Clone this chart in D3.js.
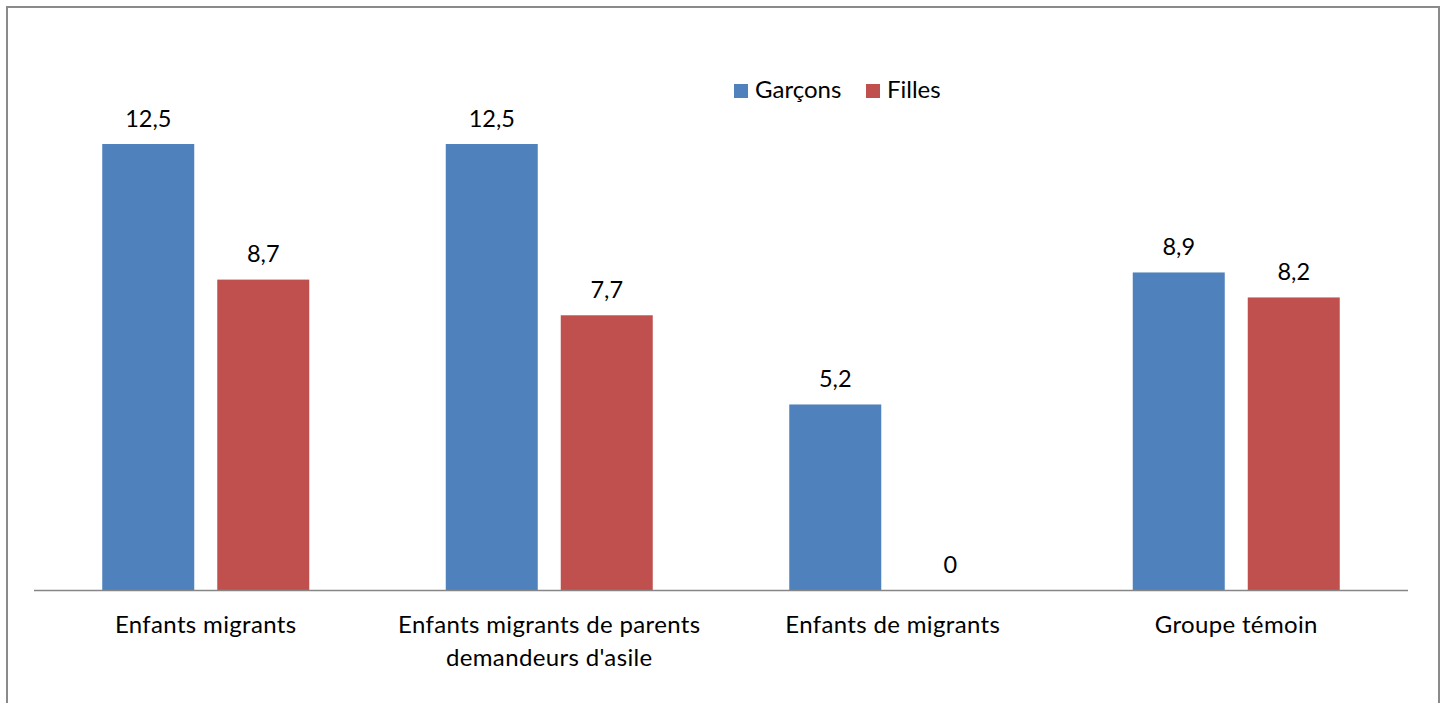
<!DOCTYPE html>
<html>
<head>
<meta charset="utf-8">
<script src="https://cdn.jsdelivr.net/npm/d3@7"></script>
<style>
  html, body { margin: 0; padding: 0; background: #fff; }
  svg { display: block; }
  text { font-family: Lato, "Open Sans", sans-serif; fill: #000; }
</style>
</head>
<body>
<svg id="chart" width="1449" height="703"></svg>
<script>
// Categories (multi-line labels split on "\n")
const categories = [
  "Enfants migrants",
  "Enfants migrants de parents\ndemandeurs d'asile",
  "Enfants de migrants",
  "Groupe témoin"
];
const seriesNames = ["Garçons", "Filles"];
const garcons = [12.5, 12.5, 5.2, 8.9];
const filles = [8.7, 7.7, 0, 8.2];
const seriesColors = ["#4F81BD", "#C0504D"];

const rows = categories.map((c, i) => ({ cat: c, values: [garcons[i], filles[i]] }));

const svg = d3.select("#chart");

// Outer frame
svg.append("rect")
  .attr("x", 7).attr("y", 7)
  .attr("width", 1432).attr("height", 720)
  .attr("fill", "none")
  .attr("stroke", "#8a8a8a")
  .attr("stroke-width", 2);

const plot = { left: 34, right: 1408, baseline: 590, top: 90.5 };

const x0 = d3.scaleBand()
  .domain(categories)
  .range([plot.left, plot.right])
  .paddingInner(0).paddingOuter(0);

const x1 = d3.scaleBand()
  .domain(seriesNames)
  .range([0, x0.bandwidth()])
  .paddingInner(0.2)
  .paddingOuter(0.5935);

const y = d3.scaleLinear().domain([0, 14]).range([plot.baseline, plot.top]);

const fmt = v => String(v).replace(".", ",");

const groups = svg.append("g").selectAll("g")
  .data(rows)
  .join("g")
  .attr("transform", d => `translate(${x0(d.cat)},0)`);

const cells = groups.selectAll("g.cell")
  .data(d => d.values.map((v, i) => ({ name: seriesNames[i], value: v, color: seriesColors[i] })))
  .join("g").attr("class", "cell");

cells.append("rect")
  .attr("x", d => x1(d.name))
  .attr("y", d => y(d.value))
  .attr("width", x1.bandwidth())
  .attr("height", d => y(0) - y(d.value))
  .attr("fill", d => d.color);

cells.append("text")
  .attr("x", d => x1(d.name) + x1.bandwidth() / 2)
  .attr("y", d => y(d.value) - 17.5)
  .attr("text-anchor", "middle")
  .attr("font-size", 23.5)
  .text(d => fmt(d.value));

// Category axis line
svg.append("line")
  .attr("x1", plot.left).attr("x2", plot.right)
  .attr("y1", plot.baseline + 0.5).attr("y2", plot.baseline + 0.5)
  .attr("stroke", "#868686")
  .attr("stroke-width", 1.5);

// Category labels
const catLabels = svg.append("g").selectAll("text")
  .data(categories)
  .join("text")
  .attr("x", d => x0(d) + x0.bandwidth() / 2)
  .attr("y", 633)
  .attr("text-anchor", "middle")
  .attr("font-size", 24)
  .attr("letter-spacing", 0.35);

catLabels.selectAll("tspan")
  .data(d => d.split("\n").map(line => ({ line, x: x0(d) + x0.bandwidth() / 2 })))
  .join("tspan")
  .attr("x", d => d.x)
  .attr("dy", (d, i) => i === 0 ? 0 : 33)
  .text(d => d.line);

// Legend
const legend = svg.append("g");
const legendItems = [
  { name: seriesNames[0], color: seriesColors[0], sx: 734, tx: 755 },
  { name: seriesNames[1], color: seriesColors[1], sx: 866, tx: 887 }
];
legendItems.forEach(it => {
  legend.append("rect")
    .attr("x", it.sx).attr("y", 84)
    .attr("width", 14).attr("height", 14)
    .attr("fill", it.color);
  legend.append("text")
    .attr("x", it.tx).attr("y", 98)
    .attr("font-size", 24)
    .text(it.name);
});
</script>
</body>
</html>
